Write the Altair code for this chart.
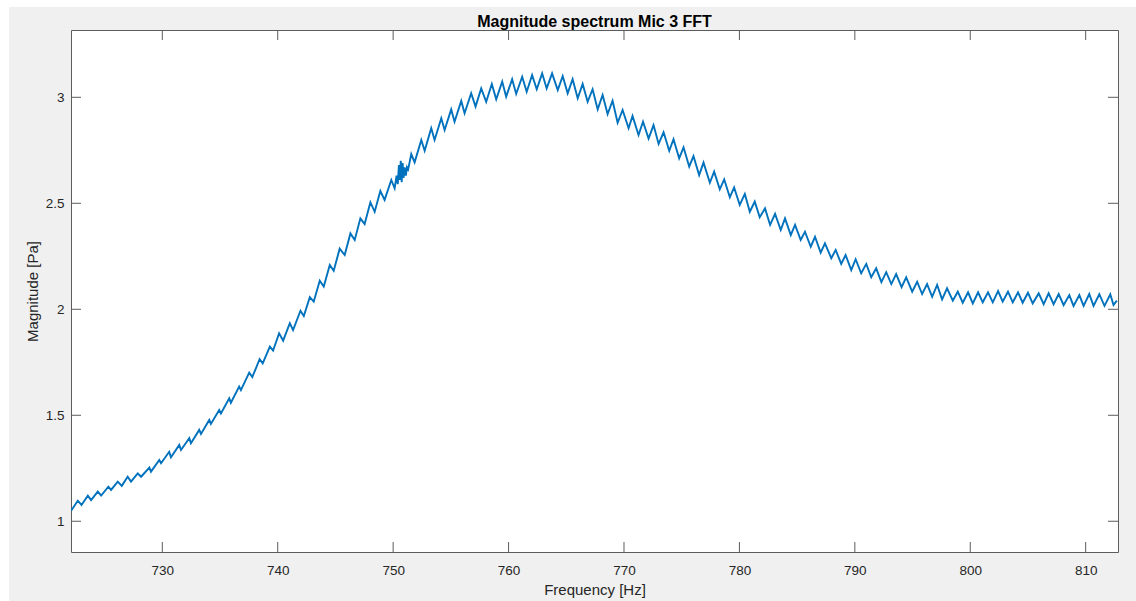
import altair as alt
import pandas as pd

# Magnitude spectrum of microphone 3 (peaks and troughs of the ripple)
freq_hz = [
    722.10, 722.68, 723.00, 723.55, 723.83, 724.41, 724.70, 725.33, 725.56, 726.14,
    726.49, 727.00, 727.29, 727.87, 728.16, 728.88, 729.02, 729.74, 729.89, 730.60,
    730.75, 731.47, 731.62, 732.34, 732.48, 733.20, 733.35, 734.07, 734.21, 734.93,
    735.08, 735.80, 735.94, 736.66, 736.81, 737.53, 737.80, 738.43, 738.70, 739.32,
    739.60, 740.12, 740.47, 741.05, 741.33, 741.97, 742.26, 742.78, 743.12, 743.64,
    743.99, 744.51, 744.85, 745.37, 745.80, 746.30, 746.67, 747.16, 747.53, 748.03,
    748.40, 748.89, 749.26, 749.84, 750.13, 750.30, 750.40, 750.50, 750.58, 750.66,
    750.74, 750.82, 750.90, 751.00, 751.10, 751.20, 751.30, 751.57, 751.86, 752.44,
    752.73, 753.30, 753.59, 754.17, 754.46, 755.03, 755.32, 755.90, 756.19, 756.76,
    757.14, 757.63, 758.06, 758.55, 758.93, 759.45, 759.79, 760.31, 760.66, 761.18,
    761.57, 762.04, 762.44, 762.91, 763.30, 763.77, 764.26, 764.69, 765.12, 765.55,
    765.99, 766.42, 766.85, 767.28, 767.72, 768.15, 768.58, 769.01, 769.45, 769.88,
    770.40, 770.74, 771.26, 771.65, 772.13, 772.56, 773.00, 773.43, 773.92, 774.29,
    774.78, 775.16, 775.65, 776.02, 776.51, 776.89, 777.44, 777.81, 778.30, 778.68,
    779.17, 779.54, 780.03, 780.47, 780.90, 781.33, 781.76, 782.22, 782.66, 783.09,
    783.58, 783.95, 784.45, 784.82, 785.31, 785.68, 786.18, 786.55, 787.04, 787.41,
    787.96, 788.34, 788.82, 789.20, 789.69, 790.07, 790.55, 790.99, 791.42, 791.85,
    792.30, 792.72, 793.16, 793.58, 794.05, 794.45, 794.97, 795.40, 795.83, 796.26,
    796.70, 797.13, 797.56, 797.99, 798.49, 798.92, 799.35, 799.81, 800.22, 800.68,
    801.08, 801.54, 801.95, 802.41, 802.81, 803.27, 803.68, 804.14, 804.54, 805.00,
    805.41, 805.93, 806.36, 806.79, 807.22, 807.66, 808.09, 808.58, 808.95, 809.45,
    809.82, 810.31, 810.68, 811.18, 811.63, 812.13, 812.41, 812.70,
]
magnitude_pa = [
    1.050, 1.097, 1.077, 1.121, 1.100, 1.140, 1.121, 1.163, 1.148, 1.187,
    1.167, 1.210, 1.187, 1.226, 1.210, 1.253, 1.234, 1.289, 1.274, 1.328,
    1.302, 1.360, 1.336, 1.392, 1.368, 1.431, 1.412, 1.478, 1.459, 1.525,
    1.509, 1.580, 1.559, 1.635, 1.619, 1.701, 1.680, 1.765, 1.745, 1.824,
    1.805, 1.887, 1.852, 1.934, 1.902, 1.993, 1.968, 2.057, 2.036, 2.135,
    2.107, 2.209, 2.182, 2.286, 2.256, 2.358, 2.327, 2.429, 2.402, 2.505,
    2.460, 2.558, 2.516, 2.610, 2.571, 2.630, 2.590, 2.680, 2.610, 2.700,
    2.600, 2.690, 2.620, 2.670, 2.630, 2.670, 2.660, 2.732, 2.693, 2.799,
    2.748, 2.854, 2.799, 2.901, 2.846, 2.943, 2.885, 2.983, 2.925, 3.019,
    2.956, 3.042, 2.979, 3.063, 2.991, 3.074, 3.003, 3.085, 3.016, 3.097,
    3.026, 3.105, 3.038, 3.113, 3.042, 3.113, 3.034, 3.100, 3.019, 3.085,
    2.995, 3.063, 2.979, 3.038, 2.943, 3.011, 2.921, 2.984, 2.880, 2.940,
    2.854, 2.912, 2.822, 2.885, 2.805, 2.869, 2.780, 2.835, 2.748, 2.802,
    2.712, 2.764, 2.673, 2.723, 2.633, 2.692, 2.597, 2.649, 2.566, 2.613,
    2.528, 2.575, 2.492, 2.544, 2.460, 2.508, 2.434, 2.476, 2.398, 2.450,
    2.374, 2.429, 2.350, 2.398, 2.327, 2.366, 2.295, 2.342, 2.267, 2.311,
    2.241, 2.280, 2.214, 2.256, 2.185, 2.236, 2.170, 2.214, 2.151, 2.193,
    2.128, 2.175, 2.119, 2.166, 2.104, 2.151, 2.083, 2.130, 2.072, 2.119,
    2.059, 2.115, 2.047, 2.099, 2.041, 2.083, 2.031, 2.080, 2.028, 2.080,
    2.033, 2.080, 2.033, 2.086, 2.036, 2.083, 2.033, 2.080, 2.031, 2.078,
    2.028, 2.075, 2.024, 2.075, 2.024, 2.072, 2.020, 2.067, 2.016, 2.067,
    2.016, 2.072, 2.016, 2.071, 2.016, 2.071, 2.020, 2.041,
]

x_ticks = [730, 740, 750, 760, 770, 780, 790, 800, 810]
y_ticks = [1, 1.5, 2, 2.5, 3]

X_DOMAIN = [722.09, 812.8]
Y_DOMAIN = [0.855, 3.3175]
W, H = 1047, 522
LEFT, TOP = 71, 30
AXIS_COLOR = "#5c5c5c"
TEXT_COLOR = "#262626"
FONT = "Liberation Sans"
TICK_LEN = 10

spectrum = pd.DataFrame({"f": freq_hz, "m": magnitude_pa})
xt = pd.DataFrame({"f": x_ticks})
yt = pd.DataFrame({"m": y_ticks})
one = pd.DataFrame({"k": [0]})

xs = alt.Scale(domain=X_DOMAIN, nice=False, zero=False)
ys = alt.Scale(domain=Y_DOMAIN, nice=False, zero=False)

X_AXIS = alt.Axis(
    values=x_ticks, title="Frequency [Hz]", grid=False, domain=False,
    ticks=False, labelPadding=11, labelFontSize=13.5, labelFont=FONT,
    labelColor=TEXT_COLOR, titleFont=FONT, titleFontSize=15,
    titleFontWeight="normal", titleColor=TEXT_COLOR,
    titleX=W / 2, titleY=37, titleBaseline="middle", zindex=1,
)
Y_AXIS = alt.Axis(
    values=y_ticks, format="~g", title="Magnitude [Pa]", grid=False,
    domain=False, ticks=False, labelPadding=7, labelFontSize=13.5,
    labelFont=FONT, labelColor=TEXT_COLOR, titleFont=FONT,
    titleFontSize=15, titleFontWeight="normal", titleColor=TEXT_COLOR,
    titleX=-39, titleY=H / 2, titleAngle=270, titleAlign="center",
    titleBaseline="middle", zindex=1,
)

# white strips along the top and left edge of the figure window
strip_top = alt.Chart(one).mark_rect(color="white").encode(
    x=alt.value(-LEFT), x2=alt.value(1136 - LEFT),
    y=alt.value(-TOP), y2=alt.value(7 - TOP),
)
strip_left = alt.Chart(one).mark_rect(color="white").encode(
    x=alt.value(-LEFT), x2=alt.value(9 - LEFT),
    y=alt.value(-TOP), y2=alt.value(601 - TOP),
)

line = alt.Chart(spectrum).mark_line(
    color="#0072BD", strokeWidth=1.9, clip=True
).encode(
    x=alt.X("f:Q", scale=xs, axis=X_AXIS),
    y=alt.Y("m:Q", scale=ys, axis=Y_AXIS),
)

# inward-pointing ticks on all four sides of the box
tick_bottom = alt.Chart(xt).mark_rule(color=AXIS_COLOR, strokeWidth=1).encode(
    x=alt.X("f:Q", scale=xs, axis=X_AXIS),
    y=alt.value(H), y2=alt.value(H - TICK_LEN),
)
tick_top = alt.Chart(xt).mark_rule(color=AXIS_COLOR, strokeWidth=1).encode(
    x=alt.X("f:Q", scale=xs, axis=X_AXIS),
    y=alt.value(0), y2=alt.value(TICK_LEN),
)
tick_left = alt.Chart(yt).mark_rule(color=AXIS_COLOR, strokeWidth=1).encode(
    y=alt.Y("m:Q", scale=ys, axis=Y_AXIS),
    x=alt.value(0), x2=alt.value(TICK_LEN),
)
tick_right = alt.Chart(yt).mark_rule(color=AXIS_COLOR, strokeWidth=1).encode(
    y=alt.Y("m:Q", scale=ys, axis=Y_AXIS),
    x=alt.value(W), x2=alt.value(W - TICK_LEN),
)

# the title sits above the full bounds (which start at the top strip),
# so a negative offset brings it down to just above the box
chart = alt.layer(
    strip_top, strip_left, line, tick_bottom, tick_top, tick_left, tick_right
).properties(
    width=W, height=H,
    title=alt.TitleParams(
        "Magnitude spectrum Mic 3 FFT", font=FONT, fontSize=16,
        fontWeight="bold", color="#000000", anchor="middle",
        baseline="alphabetic", offset=-43, frame="group",
    ),
    autosize=alt.AutoSizeParams(type="none"),
    padding={"left": LEFT, "top": TOP, "right": 1136 - LEFT - W, "bottom": 601 - TOP - H},
    background="#f0f0f0",
).configure_view(
    fill="white", stroke=AXIS_COLOR, strokeWidth=1
)

chart.save("out.html", embed_options={"renderer": "svg", "actions": False})
